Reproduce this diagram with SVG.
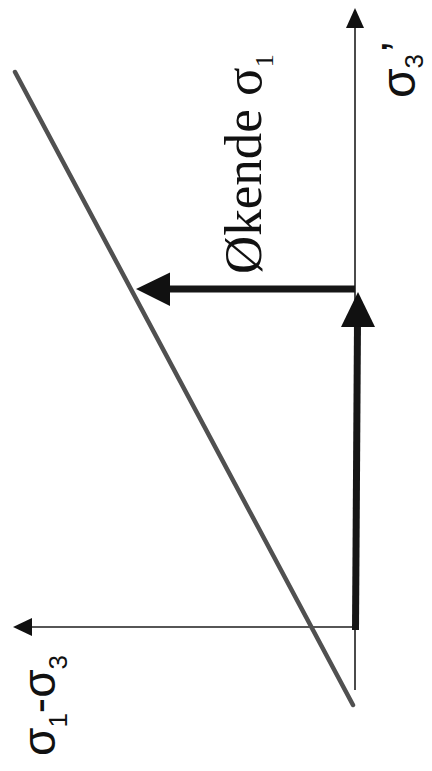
<svg xmlns="http://www.w3.org/2000/svg" width="432" height="771" viewBox="0 0 432 771">
<style>
.axis{stroke:#1e1e1e;stroke-width:1.6;fill:none}
.thick{stroke:#161616;stroke-width:7;fill:none}
.diag{stroke:#505050;stroke-width:4.5;fill:none;stroke-linecap:round}
.head{fill:#111;stroke:none}
.sans{font-family:"Liberation Sans",Arial,sans-serif;fill:#111}
.serif{font-family:"Liberation Serif","Times New Roman",serif;fill:#111}
</style>
<rect width="432" height="771" fill="#fff"/>
<g id="connectors">
<g id="axis-sigma3">
<line class="axis" x1="355" y1="690" x2="355" y2="26"/>
<polygon class="head" points="355,8 346,28 364,28"/>
</g>
<g id="axis-sigma1-sigma3">
<line class="axis" x1="355" y1="627" x2="30" y2="627"/>
<polygon class="head" points="13,627 32,618 32,636"/>
</g>
<g id="failure-line">
<line class="diag" x1="15" y1="72" x2="353" y2="705"/>
</g>
<g id="arrow-up">
<line class="thick" x1="355.5" y1="630" x2="357.5" y2="322"/>
<polygon class="head" points="358,292 341,327 375,327"/>
</g>
<g id="arrow-left">
<line class="thick" x1="355" y1="289" x2="166" y2="289"/>
<polygon class="head" points="136,289 170,272.5 170,306"/>
</g>
</g>
<g id="label-okende">
<text class="serif" font-size="53" transform="translate(261,274) rotate(-90)">Økende σ<tspan font-size="26" dy="12">1</tspan></text>
</g>
<g id="label-sigma3">
<text class="sans" font-size="48" transform="translate(415,98) rotate(-90)">σ<tspan font-size="26" dy="8">3</tspan><tspan dy="-8" dx="2">’</tspan></text>
</g>
<g id="label-sigma1-sigma3">
<text class="sans" font-size="46" transform="translate(55,756) rotate(-90)">σ<tspan font-size="26" dy="12">1</tspan><tspan dy="-12">-σ</tspan><tspan font-size="26" dy="12">3</tspan></text>
</g>
</svg>
